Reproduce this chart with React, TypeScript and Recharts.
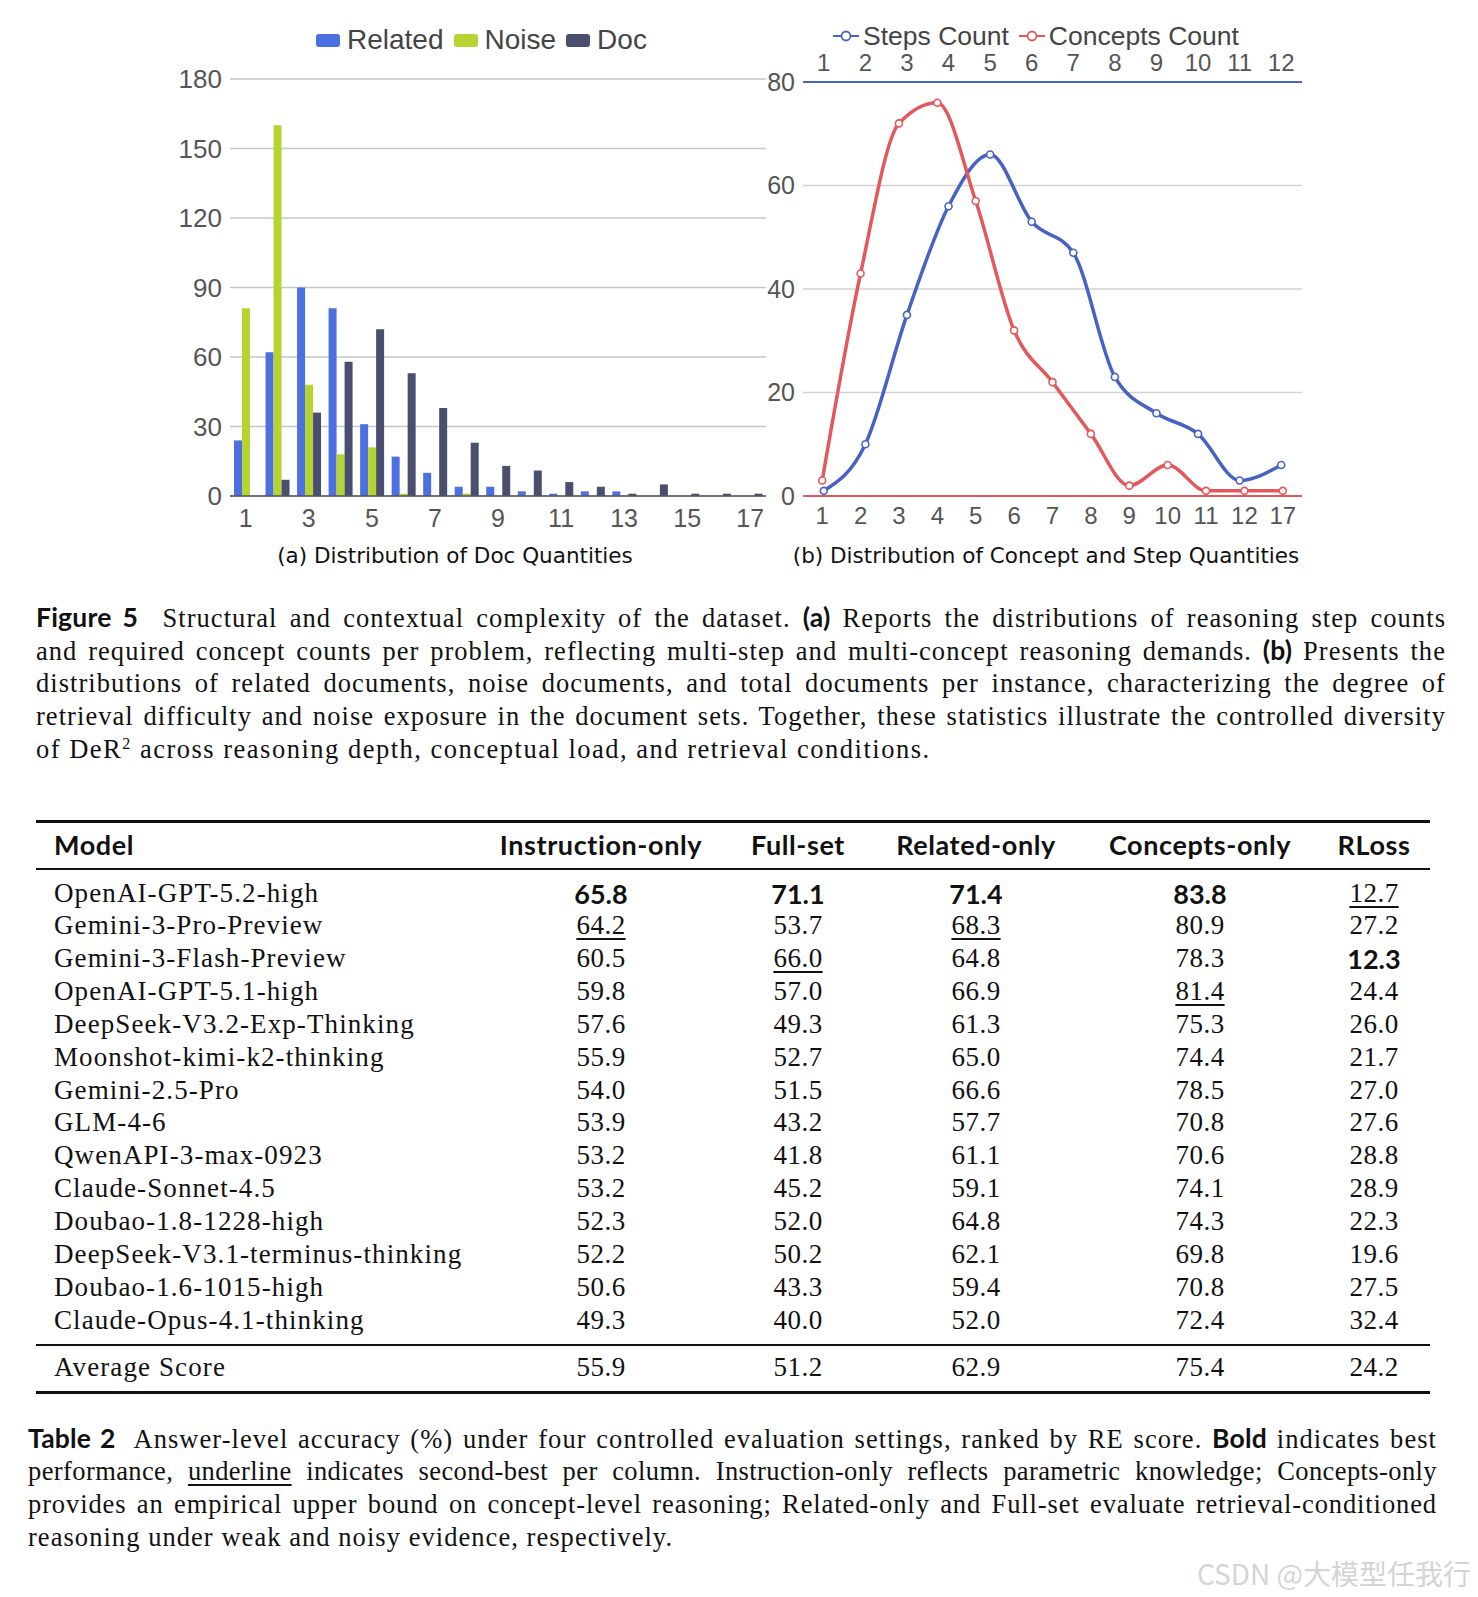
import React from "react";
import { BarChart, Bar, LineChart, Line, XAxis, YAxis, CartesianGrid } from "recharts";

// (a) documents per instance
const docCats = ["1", "2", "3", "4", "5", "6", "7", "8", "9", "10", "11", "12", "13", "14", "15", "16", "17"];
const relatedDocs = [24, 62, 90, 81, 31, 17, 10, 4, 4, 2, 1, 2, 2, 0, 0, 0, 0];
const noiseDocs = [81, 160, 48, 18, 21, 1, 0, 1, 0, 0, 0, 0, 0, 0, 0, 0, 0];
const totalDocs = [0, 7, 36, 58, 72, 53, 38, 23, 13, 11, 6, 4, 1, 5, 1, 1, 1];
const docTicks = [0, 30, 60, 90, 120, 150, 180];

// (b) steps / concepts per problem
const stepCats = ["1", "2", "3", "4", "5", "6", "7", "8", "9", "10", "11", "12"];
const stepCounts = [1, 10, 35, 56, 66, 53, 47, 23, 16, 12, 3, 6];
const conceptCats = ["1", "2", "3", "4", "5", "6", "7", "8", "9", "10", "11", "12", "17"];
const conceptCounts = [3, 43, 72, 76, 57, 32, 22, 12, 2, 6, 1, 1, 1];
const countTicks = [0, 20, 40, 60, 80];

// table 2
const models = [
  "OpenAI-GPT-5.2-high", "Gemini-3-Pro-Preview", "Gemini-3-Flash-Preview", "OpenAI-GPT-5.1-high",
  "DeepSeek-V3.2-Exp-Thinking", "Moonshot-kimi-k2-thinking", "Gemini-2.5-Pro", "GLM-4-6",
  "QwenAPI-3-max-0923", "Claude-Sonnet-4.5", "Doubao-1.8-1228-high", "DeepSeek-V3.1-terminus-thinking",
  "Doubao-1.6-1015-high", "Claude-Opus-4.1-thinking",
];
const instructionOnly = ["65.8", "64.2", "60.5", "59.8", "57.6", "55.9", "54.0", "53.9", "53.2", "53.2", "52.3", "52.2", "50.6", "49.3"];
const fullSet = ["71.1", "53.7", "66.0", "57.0", "49.3", "52.7", "51.5", "43.2", "41.8", "45.2", "52.0", "50.2", "43.3", "40.0"];
const relatedOnly = ["71.4", "68.3", "64.8", "66.9", "61.3", "65.0", "66.6", "57.7", "61.1", "59.1", "64.8", "62.1", "59.4", "52.0"];
const conceptsOnly = ["83.8", "80.9", "78.3", "81.4", "75.3", "74.4", "78.5", "70.8", "70.6", "74.1", "74.3", "69.8", "70.8", "72.4"];
const rLoss = ["12.7", "27.2", "12.3", "24.4", "26.0", "21.7", "27.0", "27.6", "28.8", "28.9", "22.3", "19.6", "27.5", "32.4"];
const avgScores = ["55.9", "51.2", "62.9", "75.4", "24.2"];
const headers = ["Instruction-only", "Full-set", "Related-only", "Concepts-only", "RLoss"];
const bestRow = [0, 0, 0, 0, 2];
const secondRow = [1, 2, 1, 3, 0];

const C_REL = "#4C70E2";
const C_NOISE = "#B6D431";
const C_DOC = "#4B4F6F";
const C_STEP = "#4862C4";
const C_CONC = "#E3585D";
const AX = "#555";

const docData = docCats.map((c, i) => ({ cat: c, related: relatedDocs[i], noise: noiseDocs[i], doc: totalDocs[i] }));
const stepData = stepCats.map((c, i) => ({ step: c, steps: stepCounts[i] }));
const conceptData = conceptCats.map((c, i) => ({ concept: c, concepts: conceptCounts[i] }));
const columns = [instructionOnly, fullSet, relatedOnly, conceptsOnly, rLoss];
const colCenters = [601, 798, 976, 1200, 1374];

const sans = "'Liberation Sans', Arial, sans-serif";
const serif = "'Liberation Serif', 'Times New Roman', serif";
const head = "Lato, 'Open Sans', sans-serif";
const hand = "'DejaVu Sans', sans-serif";

const just: React.CSSProperties = { position: "absolute", height: 33, lineHeight: "33px", textAlign: "justify", textAlignLast: "justify", fontFamily: serif, fontSize: 26.5, letterSpacing: 1.05, color: "#111" };
const B = ({ children }: { children: React.ReactNode }) => <span style={{ fontFamily: head, fontWeight: 700, letterSpacing: 0.2 }}>{children}</span>;

function LegendLine({ color, label }: { color: string; label: string }) {
  return (
    <span style={{ display: "inline-flex", alignItems: "center", marginRight: 10 }}>
      <svg width={26} height={14} style={{ marginRight: 4 }}>
        <line x1={0} y1={7} x2={26} y2={7} stroke={color} strokeWidth={2} />
        <circle cx={13} cy={7} r={4.5} fill="#fff" stroke={color} strokeWidth={1.8} />
      </svg>
      {label}
    </span>
  );
}

function LegendBox({ color, label }: { color: string; label: string }) {
  return (
    <span style={{ display: "inline-flex", alignItems: "center", marginRight: 10 }}>
      <span style={{ display: "inline-block", width: 24, height: 13, borderRadius: 3, background: color, marginRight: 7 }} />
      {label}
    </span>
  );
}

function cell(col: number, row: number) {
  const v = columns[col][row];
  if (bestRow[col] === row) return <span style={{ fontFamily: head, fontWeight: 700, letterSpacing: 0 }}>{v}</span>;
  if (secondRow[col] === row) return <span style={{ textDecoration: "underline", textUnderlineOffset: 4 }}>{v}</span>;
  return v;
}

export default function App() {
  const rowTop = (i: number) => 893 + i * 32.85 - 16.5;
  return (
    <div style={{ position: "absolute", left: 0, top: 0, width: 1478, height: 1597, background: "#fff", overflow: "hidden" }}>
      {/* legends */}
      <div style={{ position: "absolute", left: 316, top: 22, height: 36, display: "flex", alignItems: "center", fontFamily: sans, fontSize: 28, color: "#444" }}>
        <LegendBox color={C_REL} label="Related" />
        <LegendBox color={C_NOISE} label="Noise" />
        <LegendBox color={C_DOC} label="Doc" />
      </div>
      <div style={{ position: "absolute", left: 833, top: 18, height: 36, display: "flex", alignItems: "center", fontFamily: sans, fontSize: 26.5, color: "#444" }}>
        <LegendLine color={C_STEP} label="Steps Count" />
        <LegendLine color={C_CONC} label="Concepts Count" />
      </div>

      <div style={{ position: "absolute", left: 0, top: 0 }}>
        <BarChart width={800} height={560} data={docData} margin={{ top: 79, right: 34, bottom: 34, left: 170 }} barGap={0} barSize={8}>
          <CartesianGrid vertical={false} stroke="#c6c6c6" strokeWidth={1.3} />
          <XAxis dataKey="cat" interval={1} tickLine={false} axisLine={{ stroke: "#555", strokeWidth: 1.5 }} tick={{ fill: AX, fontSize: 25, fontFamily: sans }} tickMargin={7} height={30} />
          <YAxis domain={[0, 180]} ticks={docTicks} width={60} tickLine={false} axisLine={false} tick={{ fill: AX, fontSize: 26, fontFamily: sans }} />
          <Bar dataKey="related" fill={C_REL} isAnimationActive={false} />
          <Bar dataKey="noise" fill={C_NOISE} isAnimationActive={false} />
          <Bar dataKey="doc" fill={C_DOC} isAnimationActive={false} />
        </BarChart>
      </div>

      <div style={{ position: "absolute", left: 740, top: 0 }}>
        <LineChart width={600} height={560} margin={{ top: 42, right: 38, bottom: 34, left: 13 }}>
          <CartesianGrid vertical={false} stroke="#d2d2d2" strokeWidth={1.3} xAxisId="bottom" />
          <XAxis xAxisId="top" orientation="top" dataKey="step" scale="band" interval={0} height={40} tickLine={false} axisLine={{ stroke: C_STEP, strokeWidth: 2 }} tick={{ fill: AX, fontSize: 24, fontFamily: sans }} tickMargin={5} />
          <XAxis xAxisId="bottom" dataKey="concept" scale="band" interval={0} height={30} tickLine={false} axisLine={{ stroke: C_CONC, strokeWidth: 2 }} tick={{ fill: AX, fontSize: 24, fontFamily: sans }} tickMargin={5} />
          <YAxis domain={[0, 80]} ticks={countTicks} width={50} tickLine={false} axisLine={false} tick={{ fill: AX, fontSize: 25, fontFamily: sans }} />
          <Line data={stepData} xAxisId="top" dataKey="steps" type="monotone" stroke={C_STEP} strokeWidth={3.5} dot={{ r: 3.5, fill: "#fff", stroke: C_STEP, strokeWidth: 1.6 }} isAnimationActive={false} />
          <Line data={conceptData} xAxisId="bottom" dataKey="concepts" type="monotone" stroke={C_CONC} strokeWidth={3.5} dot={{ r: 3.5, fill: "#fff", stroke: C_CONC, strokeWidth: 1.6 }} isAnimationActive={false} />
        </LineChart>
      </div>

      <div style={{ position: "absolute", left: 205, width: 500, top: 543, textAlign: "center", fontFamily: hand, fontSize: 21.5, color: "#111" }}>(a) Distribution of Doc Quantities</div>
      <div style={{ position: "absolute", left: 746, width: 600, top: 543, textAlign: "center", fontFamily: hand, fontSize: 21.5, color: "#111" }}>(b) Distribution of Concept and Step Quantities</div>

      {/* figure caption */}
      <div style={{ ...just, left: 36, width: 1410, top: 601 }}><B>Figure 5</B>&nbsp; Structural and contextual complexity of the dataset. <B>(a)</B> Reports the distributions of reasoning step counts</div>
      <div style={{ ...just, left: 36, width: 1410, top: 634 }}>and required concept counts per problem, reflecting multi-step and multi-concept reasoning demands. <B>(b)</B> Presents the</div>
      <div style={{ ...just, left: 36, width: 1410, top: 667 }}>distributions of related documents, noise documents, and total documents per instance, characterizing the degree of</div>
      <div style={{ ...just, left: 36, width: 1410, top: 700 }}>retrieval difficulty and noise exposure in the document sets. Together, these statistics illustrate the controlled diversity</div>
      <div style={{ ...just, textAlignLast: "left", letterSpacing: 1.5, left: 36, width: 1410, top: 733 }}>of DeR<sup style={{ fontSize: 16, verticalAlign: "9px", lineHeight: 0 }}>2</sup> across reasoning depth, conceptual load, and retrieval conditions.</div>

      {/* table */}
      <div style={{ position: "absolute", left: 36, width: 1394, top: 820, height: 2.5, background: "#111" }} />
      <div style={{ position: "absolute", left: 36, width: 1394, top: 868, height: 1.5, background: "#111" }} />
      <div style={{ position: "absolute", left: 36, width: 1394, top: 1344, height: 1.5, background: "#111" }} />
      <div style={{ position: "absolute", left: 36, width: 1394, top: 1391, height: 2.5, background: "#111" }} />
      <div style={{ position: "absolute", top: 828, left: 0, width: 1478, height: 34, lineHeight: "34px", fontFamily: head, fontWeight: 700, fontSize: 27, letterSpacing: 0.6, color: "#111" }}>
        <span style={{ position: "absolute", left: 54 }}>Model</span>
        {headers.map((h, j) => (
          <span key={h} style={{ position: "absolute", left: colCenters[j] - 120, width: 240, textAlign: "center" }}>{h}</span>
        ))}
      </div>
      {models.map((m, i) => (
        <div key={m} style={{ position: "absolute", top: rowTop(i), left: 0, width: 1478, height: 33, lineHeight: "33px", fontFamily: serif, fontSize: 27, letterSpacing: 0.5, color: "#111" }}>
          <span style={{ position: "absolute", left: 54, letterSpacing: 1.1 }}>{m}</span>
          {columns.map((_, j) => (
            <span key={j} style={{ position: "absolute", left: colCenters[j] - 60, width: 120, textAlign: "center" }}>{cell(j, i)}</span>
          ))}
        </div>
      ))}
      <div style={{ position: "absolute", top: 1351, left: 0, width: 1478, height: 33, lineHeight: "33px", fontFamily: serif, fontSize: 27, letterSpacing: 0.5, color: "#111" }}>
        <span style={{ position: "absolute", left: 54, letterSpacing: 1.1 }}>Average Score</span>
        {avgScores.map((v, j) => (
          <span key={j} style={{ position: "absolute", left: colCenters[j] - 60, width: 120, textAlign: "center" }}>{v}</span>
        ))}
      </div>

      {/* table caption */}
      <div style={{ ...just, left: 28, width: 1409, top: 1422 }}><B>Table 2</B>&nbsp; Answer-level accuracy (%) under four controlled evaluation settings, ranked by RE score. <B>Bold</B> indicates best</div>
      <div style={{ ...just, letterSpacing: 0.4, whiteSpace: "nowrap", left: 28, width: 1409, top: 1455 }}>performance, <span style={{ textDecoration: "underline", textUnderlineOffset: 4 }}>underline</span> indicates second-best per column. Instruction-only reflects parametric knowledge; Concepts-only</div>
      <div style={{ ...just, letterSpacing: 0.9, left: 28, width: 1409, top: 1488 }}>provides an empirical upper bound on concept-level reasoning; Related-only and Full-set evaluate retrieval-conditioned</div>
      <div style={{ ...just, textAlignLast: "left", left: 28, width: 1409, top: 1521 }}>reasoning under weak and noisy evidence, respectively.</div>

      <div style={{ position: "absolute", left: 1197, top: 1553, fontFamily: "'Noto Sans CJK SC', sans-serif", fontSize: 28, color: "#d4d4d4", whiteSpace: "nowrap" }}>CSDN @大模型任我行</div>
    </div>
  );
}
